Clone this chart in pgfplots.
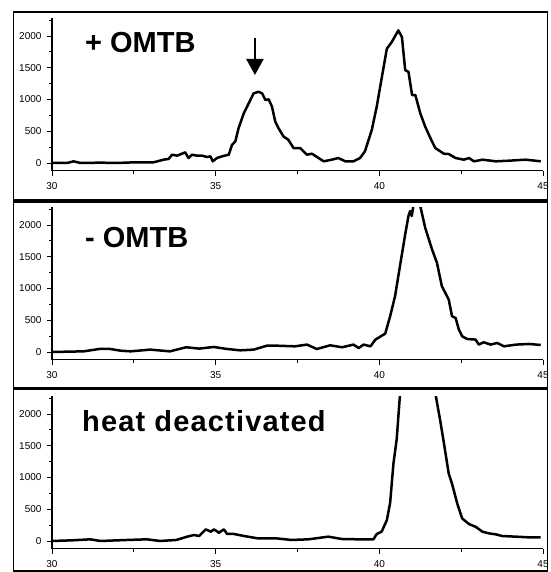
\documentclass[border=0pt]{standalone}
\usepackage{fontspec}
\setmainfont{Liberation Sans}
\usepackage{pgfplots}
\pgfplotsset{compat=1.18}
\usepackage{pgfplotstable}
\usetikzlibrary{arrows.meta}

\pgfplotstableread{
x y
30 0
30.46 0
30.66 26
30.87 0
31.48 5
32.0 0
32.5 10
33.1 10
33.41 52
33.56 63
33.67 130
33.82 115
33.97 146
34.07 167
34.17 78
34.28 130
34.43 115
34.58 115
34.74 94
34.84 104
34.91 26
35.04 78
35.19 104
35.40 130
35.50 287
35.60 339
35.70 548
35.86 783
36.01 940
36.16 1096
36.31 1122
36.42 1096
36.52 992
36.62 1002
36.72 887
36.82 652
36.92 548
37.07 418
37.22 365
37.38 235
37.58 235
37.79 130
37.94 146
38.30 26
38.55 52
38.75 78
38.96 26
39.21 26
39.41 78
39.56 183
39.77 522
39.92 887
40.07 1331
40.23 1801
40.38 1905
40.58 2088
40.69 1984
40.79 1462
40.89 1436
41.00 1070
41.10 1070
41.25 783
41.40 574
41.56 392
41.71 235
41.97 146
42.12 141
42.33 78
42.58 52
42.74 78
42.89 26
43.15 52
43.56 26
43.96 36
44.47 52
44.93 26
}\dataA

\pgfplotstableread{
x y
30 0
30.5 5
30.97 10
31.48 50
31.78 47
32.1 20
32.4 10
33.0 37
33.6 10
34.1 74
34.5 53
34.94 79
35.35 47
35.75 26
36.16 37
36.57 100
36.82 100
37.42 89
37.79 116
38.09 47
38.5 105
38.86 74
39.21 116
39.37 63
39.52 116
39.73 89
39.88 195
40.18 289
40.33 563
40.48 878
40.63 1352
40.79 1852
40.89 2141
40.94 2220
40.99 2141
41.04 2300
41.14 2500
41.25 2300
41.40 1957
41.61 1615
41.76 1404
41.91 1036
42.12 826
42.22 563
42.33 536
42.43 352
42.53 247
42.68 205
42.94 195
43.04 116
43.19 153
43.40 116
43.60 142
43.81 89
44.17 116
44.58 126
44.93 110
}\dataB

\pgfplotstableread{
x y
30 0
30.6 10
31.17 26
31.48 0
32.3 16
32.9 26
33.3 0
33.8 16
34.13 68
34.34 94
34.49 78
34.70 183
34.85 146
34.95 183
35.10 130
35.25 183
35.35 110
35.56 110
35.87 78
36.28 42
36.84 42
37.32 16
37.83 26
38.44 68
38.86 31
39.37 26
39.82 26
39.92 110
40.07 146
40.23 329
40.33 600
40.43 1216
40.53 1600
40.63 2300
40.80 3200
41.15 3600
41.55 3200
41.72 2300
41.86 1895
41.96 1582
42.12 1060
42.22 903
42.38 590
42.53 355
42.74 266
42.94 224
43.15 146
43.35 120
43.56 104
43.76 78
44.17 68
44.58 57
44.93 57
}\dataC

\pgfplotsset{
  panel/.style={
    width=491pt, height=152.4pt, scale only axis,
    xmin=30, xmax=45, ymin=-120, ymax=2280,
    axis lines=left, axis line style={-, line width=1.2pt},
    xtick={30,35,40,45}, minor xtick={32.5,37.5,42.5},
    ytick={0,500,1000,1500,2000}, minor ytick={250,750,1250,1750,2250},
    tick align=outside, major tick length=5pt, minor tick length=3pt,
    every tick/.style={black, line width=0.9pt},
    tick label style={font=\fontsize{10}{12}\selectfont},
    xticklabel style={yshift=-3pt},
    yticklabel style={xshift=-2pt},
    /pgf/number format/assume math mode=true,
    /pgf/number format/1000 sep={},
    anchor=south west,
  },
  curve/.style={black, line width=2.5pt, line join=round, no markers},
}

\newcommand{\ttl}{\fontsize{29}{34}\selectfont\bfseries}

\begin{document}
\begin{tikzpicture}[x=1pt,y=1pt]
\useasboundingbox (0,0) rectangle (550,572);

\begin{axis}[panel, at={(52pt,401.4pt)}]
\addplot[curve] table[x=x,y=y] {\dataA};
\draw[line width=2.5pt, -{Triangle[width=17pt,length=16pt]}] (axis cs:36.2,1964) -- (axis cs:36.2,1386);
\end{axis}

\begin{axis}[panel, at={(52pt,212.4pt)}]
\addplot[curve] table[x=x,y=y] {\dataB};
\end{axis}

\begin{axis}[panel, at={(52pt,23.4pt)}]
\addplot[curve] table[x=x,y=y] {\dataC};
\end{axis}

\node[anchor=base west, inner sep=0] at (85,519) {\ttl + OMTB};
\node[anchor=base west, inner sep=0] at (85,324) {\ttl - OMTB};
\node[anchor=base west, inner sep=0] at (82,140) {\ttl\addfontfeature{LetterSpace=4} heat deactivated};

\draw[line width=1.2pt] (13.5,372) rectangle (547.5,560);
\draw[line width=1.2pt] (13.5,184) rectangle (547.5,370);
\draw[line width=1.2pt] (13.5,1) rectangle (547.5,183);
\end{tikzpicture}
\end{document}
